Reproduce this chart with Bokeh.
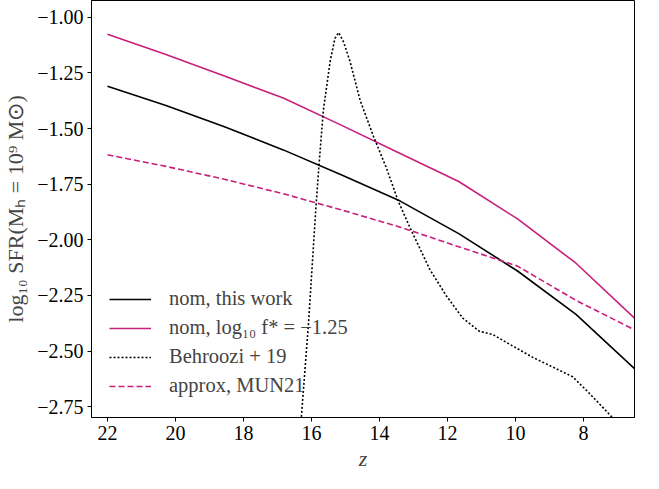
from bokeh.plotting import figure
from bokeh.models import Range1d, FixedTicker, CustomJSTickFormatter, Legend, LegendItem
from bokeh.embed import file_html
from bokeh.resources import INLINE

# ---- data ----
z_grid = [22.0, 20.28, 18.56, 16.83, 15.11, 13.39, 11.67, 9.94, 8.22, 6.5]
sfr_nom = [-1.310, -1.397, -1.492, -1.596, -1.709, -1.826, -1.972, -2.140, -2.335, -2.579]
sfr_nom_fstar = [-1.077, -1.168, -1.264, -1.363, -1.486, -1.612, -1.738, -1.906, -2.105, -2.352]
sfr_approx = [-1.618, -1.670, -1.728, -1.793, -1.866, -1.943, -2.031, -2.118, -2.272, -2.404]

beh_z = [16.40, 16.30, 16.09, 15.87, 15.78, 15.65, 15.45, 15.31, 15.20, 15.06, 14.87,
         14.57, 14.18, 13.79, 13.45, 13.11, 12.52, 12.04, 11.55, 11.06, 10.67, 10.08,
         9.49, 8.32, 7.83, 7.20, 7.00]
beh_sfr = [-3.10, -2.80, -2.38, -1.855, -1.665, -1.417, -1.197, -1.095, -1.069, -1.11, -1.197,
           -1.373, -1.534, -1.68, -1.826, -1.943, -2.133, -2.25, -2.352, -2.411, -2.425, -2.477,
           -2.528, -2.615, -2.689, -2.79, -2.83]

x_ticks = [22, 20, 18, 16, 14, 12, 10, 8]
y_ticks = [-2.75, -2.5, -2.25, -2.0, -1.75, -1.5, -1.25, -1.0]

labels = ["nom, this work", "nom, log\u2081\u2080 f* = \u22121.25", "Behroozi + 19", "approx, MUN21"]

PINK = "#c71f7a"
FONT = "Liberation Serif"

p = figure(width=643, height=473, output_backend="svg", toolbar_location=None,
           x_range=Range1d(22.47, 6.5), y_range=Range1d(-2.798, -0.925),
           min_border_left=89, min_border_right=9, min_border_top=0, min_border_bottom=46)

p.background_fill_color = "white"
p.border_fill_color = "white"
p.outline_line_color = "black"
p.outline_line_width = 1
p.grid.visible = False

r1 = p.line(z_grid, sfr_nom, line_color="black", line_width=1.6)
r2 = p.line(z_grid, sfr_nom_fstar, line_color=PINK, line_width=1.6)
r3 = p.line(beh_z, beh_sfr, line_color="black", line_width=1.6, line_dash="2 2")
r4 = p.line(z_grid, sfr_approx, line_color=PINK, line_width=1.6, line_dash="6 3")

legend = Legend(items=[LegendItem(label=labels[0], renderers=[r1]),
                       LegendItem(label=labels[1], renderers=[r2]),
                       LegendItem(label=labels[2], renderers=[r3]),
                       LegendItem(label=labels[3], renderers=[r4])],
                location=(18, 20), padding=0, margin=0, spacing=6,
                glyph_width=42, glyph_height=20, label_height=20, label_standoff=18,
                label_text_font=FONT, label_text_font_size="20.5px",
                border_line_color=None, background_fill_alpha=0)
p.add_layout(legend)

for ax in (p.xaxis[0], p.yaxis[0]):
    ax.major_label_text_font = FONT
    ax.major_label_text_font_size = "20px"
    ax.major_label_text_color = "black"
    ax.axis_label_text_font = FONT
    ax.axis_label_text_font_size = "22px"
    ax.axis_label_text_font_style = "normal"
    ax.axis_line_color = "black"
    ax.major_tick_line_color = "black"
    ax.major_tick_out = 4
    ax.major_tick_in = 0
    ax.minor_tick_line_color = None
    ax.major_label_standoff = 4

p.xaxis.ticker = FixedTicker(ticks=x_ticks)
p.yaxis.ticker = FixedTicker(ticks=y_ticks)
p.xaxis.formatter = CustomJSTickFormatter(code="return tick.toFixed(0);")
p.yaxis.formatter = CustomJSTickFormatter(code="return tick.toFixed(2).replace('-', '\u2212');")

p.xaxis.axis_label = "z"
p.xaxis.axis_label_text_font_style = "italic"
p.xaxis.axis_label_standoff = 3
p.yaxis.axis_label = "log\u2081\u2080 SFR(M\u2095 = 10\u2079 M\u2299)"
p.yaxis.axis_label_standoff = 6

open("out.html", "w").write(file_html(p, INLINE))
